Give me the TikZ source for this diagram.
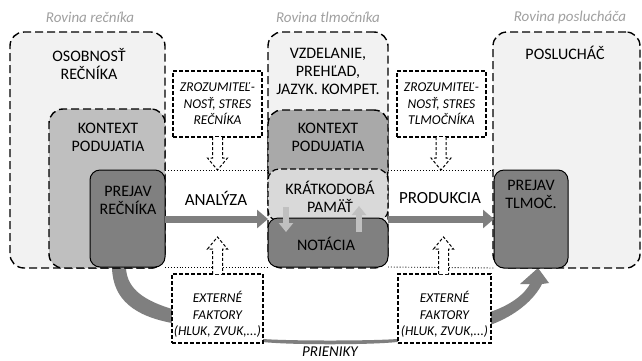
\documentclass[tikz,border=0pt]{standalone}
\usepackage{fontspec}
\setmainfont{Carlito}
\usetikzlibrary{arrows.meta,calc}
\definecolor{bgl}{HTML}{F2F2F2}
\definecolor{konA}{HTML}{BFBFBF}
\definecolor{konB}{HTML}{A9A9A9}
\definecolor{darkg}{HTML}{808080}
\definecolor{kra}{HTML}{D9D9D9}
\definecolor{ttl}{HTML}{A0A0A0}
\definecolor{flow}{HTML}{7F7F7F}
\definecolor{lite}{HTML}{C0C0C0}
\tikzset{
  boxbase/.style={inner sep=0pt, outer sep=0pt, anchor=north west},
  bigbox/.style={boxbase, draw, dash pattern=on 8pt off 4pt, line width=1.4pt, rounded corners=14pt},
  midbox/.style={boxbase, draw, dash pattern=on 6pt off 3pt, line width=1.2pt, rounded corners=11pt},
  solidbox/.style={boxbase, draw, line width=1pt, rounded corners=10pt, fill=darkg},
  smallbox/.style={boxbase, draw, fill=white, dash pattern=on 4pt off 2pt, line width=1.1pt},
  txt/.style={font=\fontsize{16}{18}\selectfont, align=center, inner sep=0pt},
  flowtxt/.style={font=\fontsize{17}{18}\selectfont, inner sep=0pt},
  itxt/.style={font=\fontsize{13.5}{16.5}\selectfont\itshape, align=center, inner sep=0pt},
  ttltxt/.style={font=\fontsize{15}{16}\selectfont\itshape, text=ttl, inner sep=0pt},
  flowarrow/.style={draw=flow, line width=7pt, -{Triangle[length=11pt,width=18pt]}},
  litearrow/.style={draw=lite, line width=6pt, -{Triangle[length=9pt,width=14pt]}},
  hollow/.style={draw, fill=white, dash pattern=on 3pt off 2pt, line width=1pt, line join=miter},
}
\begin{document}
\begin{tikzpicture}[x=1pt,y=-1pt]
\useasboundingbox[fill=white] (0,0) rectangle (642,360);

% PRIENIKY band
\fill[flow] (112,268) .. controls (113,300) and (135,316) .. (172,323)
  .. controls (210,333) and (240,340) .. (263,342)
  .. controls (290,345) and (370,345) .. (397,342)
  .. controls (430,338) and (460,333) .. (490,325)
  .. controls (515,316) and (534,300) .. (542,284)
  -- (549,283) -- (538,268) -- (520,284) -- (530,284)
  .. controls (522,298) and (505,307) .. (490,312)
  .. controls (460,324) and (430,336) .. (397,339)
  .. controls (370,341) and (290,341) .. (263,339)
  .. controls (240,336) and (210,320) .. (172,309)
  .. controls (146,301) and (127,290) .. (126,268) -- cycle;

% level titles
\node[ttltxt] (r1) at (90,17) {Rovina rečníka};
\node[ttltxt] (r2) at (328,17) {Rovina tlmočníka};
\node[ttltxt] (r3) at (570,17) {Rovina poslucháča};

% speaker column
\node[bigbox, fill=bgl, minimum width=155pt, minimum height=236pt] (osR) at (10,32) {};
\node[bigbox, fill=konA, minimum width=116pt, minimum height=159pt] (konR) at (49,109) {};
\node[solidbox, minimum width=75pt, minimum height=97pt] (preR) at (90,170) {};

% interpreter column
\node[bigbox, fill=bgl, minimum width=120pt, minimum height=236pt] (vzd) at (268,32) {};
\node[bigbox, fill=konB, minimum width=120pt, minimum height=75pt] (konM) at (268,110) {};
\node[midbox, fill=kra, minimum width=120pt, minimum height=52pt] (kra) at (268,169) {};
\node[solidbox, minimum width=120pt, minimum height=49pt] (nota) at (268,218) {};

% listener column
\node[bigbox, fill=bgl, minimum width=147pt, minimum height=236pt] (posl) at (493,32) {};
\node[solidbox, minimum width=74pt, minimum height=98pt] (preT) at (494,170) {};

% dotted band
\draw[dotted, line width=0.9pt] (preR.north east) -- (konM.south west |- preR.north east);
\draw[dotted, line width=0.9pt] (konM.south east |- preR.north east) -- (preT.north west);
\draw[dotted, line width=0.9pt] (preR.south east) -- (nota.south west);
\draw[dotted, line width=0.9pt] (nota.south east) -- (preT.south west);

% texts in boxes
\node[txt] (tOsR) at (89,64) {OSOBNOSŤ\\REČNÍKA};
\node[txt] (tKonR) at (108,137) {KONTEXT\\PODUJATIA};
\node[txt] (tPreR) at (128,200) {PREJAV\\REČNÍKA};
\node[txt] (tVzd) at (328,71) {VZDELANIE,\\PREHĽAD,\\JAZYK. KOMPET.};
\node[txt] (tKonM) at (328,137) {KONTEXT\\PODUJATIA};
\node[txt] (tKra) at (330,197) {KRÁTKODOBÁ\\PAMÄŤ};
\node[txt] (tNota) at (326,244) {NOTÁCIA};
\node[txt] (tPosl) at (565,53) {POSLUCHÁČ};
\node[txt] (tPreT) at (531,194) {PREJAV\\TLMOČ.};

% flow arrows
\draw[flowarrow] (preR.east |- 0,219) -- (kra.west |- 0,219);
\draw[flowarrow] (kra.east |- 0,219) -- (preT.west |- 0,219);
\node[flowtxt] (tAna) at (216,198) {ANALÝZA};
\node[flowtxt] (tPro) at (440,198) {PRODUKCIA};

% memory / notation arrows
\coordinate (m1a) at (286,207); \coordinate (m1b) at (286,232);
\coordinate (m2a) at (359,232); \coordinate (m2b) at (359,206);
\draw[litearrow] (m1a) -- (m1b);
\draw[litearrow] (m2a) -- (m2b);

% dashed factor boxes
\node[smallbox, minimum width=89pt, minimum height=66pt] (zr1) at (173,71) {};
\node[smallbox, minimum width=89pt, minimum height=66pt] (zr2) at (397,71) {};
\node[smallbox, minimum width=91pt, minimum height=69pt] (ex1) at (172,274) {};
\node[smallbox, minimum width=93pt, minimum height=69pt] (ex2) at (398,274) {};
\node[itxt] (tz1) at (zr1.center) {ZROZUMITEĽ-\\NOSŤ, STRES\\REČNÍKA};
\node[itxt] (tz2) at (zr2.center) {ZROZUMITEĽ-\\NOSŤ, STRES\\TLMOČNÍKA};
\node[itxt] (te1) at ($(ex1.center)+(0,6)$) {EXTERNÉ\\FAKTORY\\(HLUK, ZVUK,...)};
\node[itxt] (te2) at ($(ex2.center)+(0,6)$) {EXTERNÉ\\FAKTORY\\(HLUK, ZVUK,...)};

% hollow arrows
\coordinate (d1) at (zr1.south |- preR.north east);
\coordinate (d2) at ($(zr2.south |- preR.north east)+(-0.5,0)$);
\coordinate (u1) at ($(ex1.north)+(0,-37)$);
\coordinate (u2) at ($(ex2.north)+(-1,-37)$);
\draw[hollow] ($(zr1.south)+(-5,0)$) -- ($(d1)+(-5,-12)$) -- ($(d1)+(-10,-12)$) -- (d1) -- ($(d1)+(10,-12)$) -- ($(d1)+(5,-12)$) -- ($(zr1.south)+(5,0)$);
\draw[hollow] ($(d2 |- zr2.south)+(-5,0)$) -- ($(d2)+(-5,-12)$) -- ($(d2)+(-10,-12)$) -- (d2) -- ($(d2)+(10,-12)$) -- ($(d2)+(5,-12)$) -- ($(d2 |- zr2.south)+(5,0)$);
\draw[hollow] ($(u1 |- ex1.north)+(-5,0)$) -- ($(u1)+(-5,12)$) -- ($(u1)+(-10,12)$) -- (u1) -- ($(u1)+(10,12)$) -- ($(u1)+(5,12)$) -- ($(u1 |- ex1.north)+(5,0)$);
\draw[hollow] ($(u2 |- ex2.north)+(-5,0)$) -- ($(u2)+(-5,12)$) -- ($(u2)+(-10,12)$) -- (u2) -- ($(u2)+(10,12)$) -- ($(u2)+(5,12)$) -- ($(u2 |- ex2.north)+(5,0)$);

\node[ttltxt, text=black] (tPri) at (330,352) {PRIENIKY};
\end{tikzpicture}
\end{document}
